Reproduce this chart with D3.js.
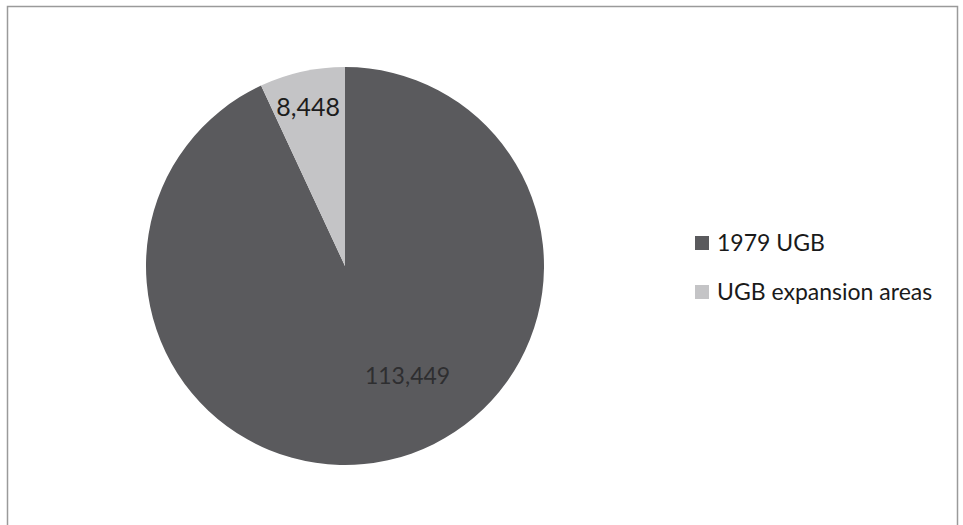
<!DOCTYPE html>
<html>
<head>
<meta charset="utf-8">
<script src="https://cdn.jsdelivr.net/npm/d3@7"></script>
<style>
  body { margin: 0; background: #fff; }
</style>
</head>
<body>
<div id="wrapper"></div>
<script>
const categories = ["1979 UGB", "UGB expansion areas"];
const values = [113449, 8448];
const labels = ["113,449", "8,448"];

const width = 963;
const height = 525;
const font = "Lato, 'Open Sans', sans-serif";

const svg = d3.select("#wrapper")
    .append("svg")
    .attr("width", width)
    .attr("height", height);

// chart frame
svg.append("rect")
    .attr("x", 7.5)
    .attr("y", 6.5)
    .attr("width", 950)
    .attr("height", 530)
    .attr("fill", "none")
    .attr("stroke", "#9a9a9a")
    .attr("stroke-width", 1.5);

const colScale = d3.scaleOrdinal()
    .domain(categories)
    .range(["#5a5a5d", "#c4c4c6"]);

const cx = 345, cy = 266, r = 199;

const pie = d3.pie().sort(null).value(d => d.value);
const data = pie(categories.map((c, i) => ({ cat: c, value: values[i], label: labels[i] })));

const arc = d3.arc().innerRadius(0).outerRadius(r);

const g = svg.append("g").attr("transform", `translate(${cx},${cy})`);

g.selectAll("path")
    .data(data)
    .enter().append("path")
    .attr("d", arc)
    .attr("fill", d => colScale(d.data.cat));

// data labels: "best fit" offsets (angle shift in radians, radius fraction)
const labelPos = [
    { shift: -0.30, rr: 0.635, size: 23, color: "#2e2e30" },
    { shift: -0.01, rr: 0.82, size: 25, color: "#1c1c1c" }
];
g.selectAll("text.lbl")
    .data(data)
    .enter().append("text")
    .attr("class", "lbl")
    .attr("transform", (d, i) => {
        const a = (d.startAngle + d.endAngle) / 2 + labelPos[i].shift;
        const rr = r * labelPos[i].rr;
        return `translate(${rr * Math.sin(a)},${-rr * Math.cos(a)})`;
    })
    .attr("text-anchor", "middle")
    .attr("dy", "0.36em")
    .style("font-family", font)
    .style("font-size", (d, i) => labelPos[i].size + "px")
    .attr("fill", (d, i) => labelPos[i].color)
    .text(d => d.data.label);

// legend
const legend = svg.append("g").attr("transform", "translate(695,236)");
const item = legend.selectAll("g")
    .data(categories)
    .enter().append("g")
    .attr("transform", (d, i) => `translate(0,${i * 49})`);

item.append("rect")
    .attr("width", 14)
    .attr("height", 14)
    .attr("fill", d => colScale(d));

item.append("text")
    .attr("x", 22)
    .attr("y", 7)
    .attr("dy", "0.36em")
    .style("font-family", font)
    .style("font-size", "23px")
    .attr("fill", "#1a1a1a")
    .text(d => d);
</script>
</body>
</html>
